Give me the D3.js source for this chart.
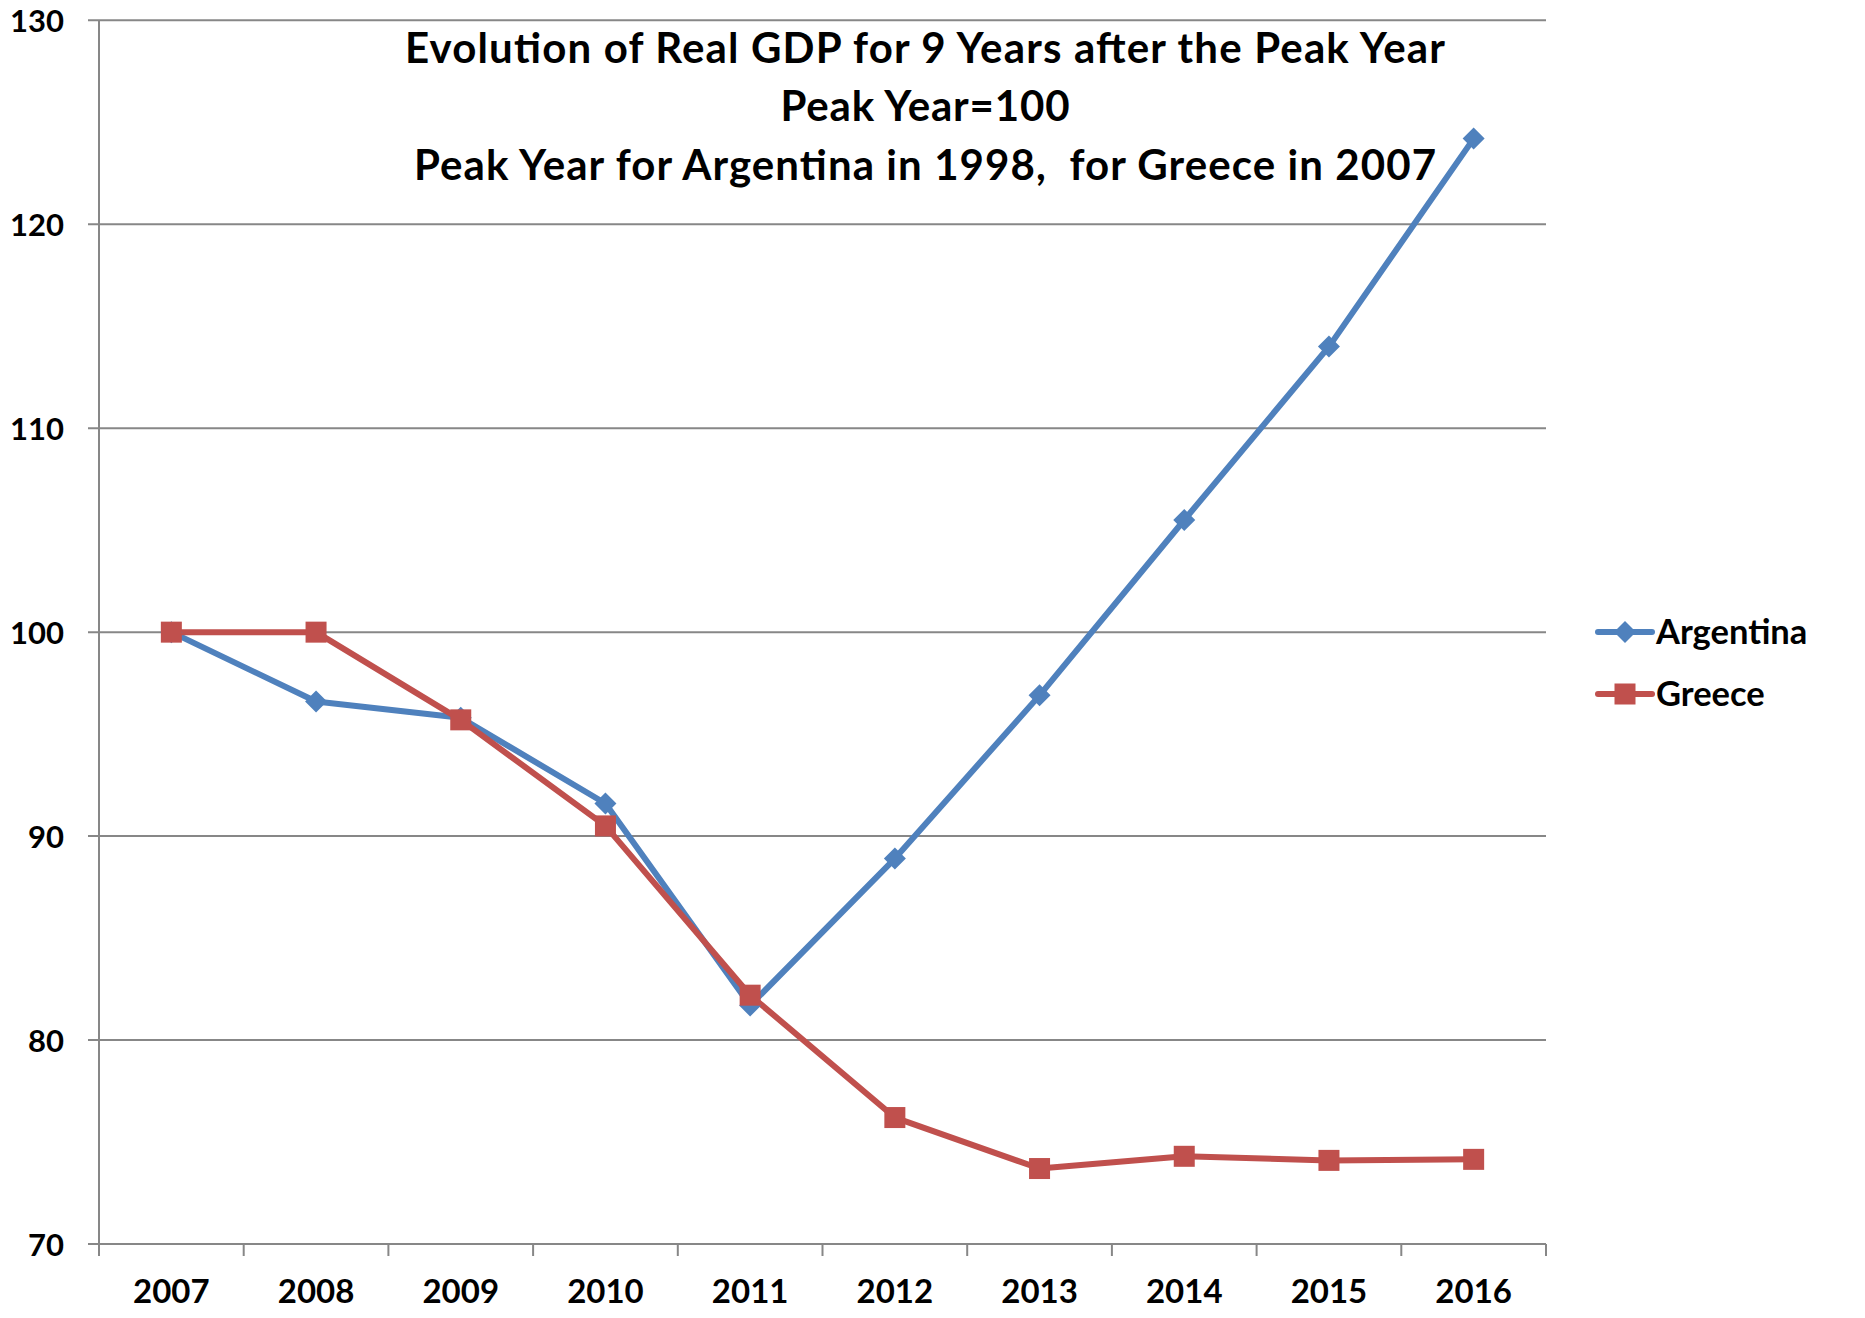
<!DOCTYPE html>
<html><head><meta charset="utf-8">
<script src="https://cdn.jsdelivr.net/npm/d3@7"></script>
<style>body{margin:0;background:#fff}svg{display:block}</style>
</head><body>
<svg id="c" width="1865" height="1318"></svg>
<script>
const years = ["2007","2008","2009","2010","2011","2012","2013","2014","2015","2016"];
const argentina = [100, 96.6, 95.8, 91.6, 81.7, 88.9, 96.9, 105.5, 114.0, 124.2];
const greece = [100, 100, 95.7, 90.5, 82.2, 76.2, 73.7, 74.3, 74.1, 74.15];
const yTicks = [70, 80, 90, 100, 110, 120, 130];
const titleLines = ["Evolution of Real GDP for 9 Years after the Peak Year", "Peak Year=100", "Peak Year for Argentina in 1998,  for Greece in 2007"];
const seriesNames = ["Argentina", "Greece"];

const FONT = "Lato, 'Open Sans', sans-serif";
const svg = d3.select("#c");
const L = 99, R = 1546, T = 20.3, B = 1244;
const x = d3.scaleBand().domain(years).range([L, R]);
const y = d3.scaleLinear().domain([70, 130]).range([B, T]);
const gridCol = "#878787";

// gridlines
svg.append("g").selectAll("line").data(yTicks).join("line")
  .attr("x1", L - 11).attr("x2", R).attr("y1", d => y(d)).attr("y2", d => y(d))
  .attr("stroke", gridCol).attr("stroke-width", 2);

// y axis line
svg.append("line").attr("x1", L).attr("x2", L).attr("y1", T).attr("y2", B + 12)
  .attr("stroke", gridCol).attr("stroke-width", 2);

// x axis ticks at band boundaries
const bounds = years.map(d => x(d)).concat([R]);
svg.append("g").selectAll("line").data(bounds).join("line")
  .attr("x1", d => d).attr("x2", d => d).attr("y1", B).attr("y2", B + 12)
  .attr("stroke", gridCol).attr("stroke-width", 2);

// y labels
svg.append("g").selectAll("text").data(yTicks).join("text")
  .attr("x", 64).attr("y", d => y(d) + 11.8)
  .attr("text-anchor", "end").attr("font-family", FONT).attr("font-weight", 700)
  .attr("font-size", 31).attr("fill", "#000").text(d => d);

// x labels
svg.append("g").selectAll("text").data(years).join("text")
  .attr("x", d => x(d) + x.bandwidth() / 2).attr("y", 1303)
  .attr("text-anchor", "middle").attr("font-family", FONT).attr("font-weight", 700)
  .attr("font-size", 33).attr("fill", "#000").text(d => d);

const colors = ["#4F81BD", "#C0504D"];
const data = [argentina, greece];
const line = d3.line().x((d, i) => x(years[i]) + x.bandwidth() / 2).y(d => y(d));

data.forEach((vals, s) => {
  svg.append("path").datum(vals).attr("d", line).attr("fill", "none")
    .attr("stroke", colors[s]).attr("stroke-width", 6).attr("stroke-linejoin", "round");
});
// markers
function drawMarker(g, s, cx, cy) {
  if (s === 0) {
    g.append("path").attr("d", `M${cx},${cy-11}L${cx+11},${cy}L${cx},${cy+11}L${cx-11},${cy}Z`)
      .attr("fill", colors[0]);
  } else {
    g.append("rect").attr("x", cx - 10.5).attr("y", cy - 10.5).attr("width", 21).attr("height", 21)
      .attr("fill", colors[1]);
  }
}
data.forEach((vals, s) => {
  const g = svg.append("g");
  vals.forEach((v, i) => drawMarker(g, s, x(years[i]) + x.bandwidth() / 2, y(v)));
});

// legend
const legY = [632, 694];
seriesNames.forEach((n, s) => {
  const g = svg.append("g");
  g.append("line").attr("x1", 1598).attr("x2", 1652).attr("y1", legY[s]).attr("y2", legY[s])
    .attr("stroke", colors[s]).attr("stroke-width", 6).attr("stroke-linecap", "round");
  drawMarker(g, s, 1625, legY[s]);
  g.append("text").attr("x", 1656).attr("y", legY[s] + 12).attr("font-family", FONT)
    .attr("font-weight", 700).attr("font-size", 34.5).attr("fill", "#000").text(n);
});

// title
const tY = [63, 121, 180];
const tW = [1040, 289, 1022];
svg.append("g").selectAll("text").data(titleLines).join("text")
  .attr("x", 925).attr("y", (d, i) => tY[i]).attr("text-anchor", "middle")
  .attr("font-family", FONT).attr("font-weight", 700).attr("font-size", 42)
  .attr("fill", "#000").attr("xml:space", "preserve")
  .style("white-space", "pre")
  .attr("textLength", (d, i) => tW[i]).attr("lengthAdjust", "spacing")
  .text(d => d);
</script>
</body></html>
